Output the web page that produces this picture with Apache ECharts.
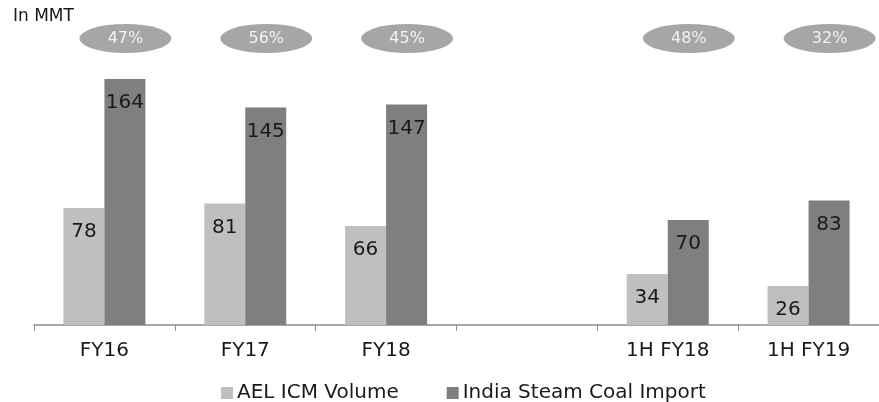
<!DOCTYPE html>
<html>
<head>
<meta charset="utf-8">
<script src="https://cdn.jsdelivr.net/npm/echarts@6/dist/echarts.min.js"></script>
<style>html,body{margin:0;padding:0;background:#fff}#c{width:879px;height:402px}</style>
</head>
<body>
<div id="c"></div>
<script>
const categories = ['FY16', 'FY17', 'FY18', '', '1H FY18', '1H FY19'];
const aelVolume = [78, 81, 66, null, 34, 26];
const coalImport = [164, 145, 147, null, 70, 83];
const sharePct = [47, 56, 45, null, 48, 32];
const seriesNames = ['AEL ICM Volume', 'India Steam Coal Import'];

const FONT = 'DejaVu Sans';
const pctLevel = 191;
const pctData = [];
sharePct.forEach((p, i) => { if (p != null) pctData.push([i, pctLevel, p]); });

const chart = echarts.init(document.getElementById('c'));
chart.setOption({
  animation: false,
  textStyle: { fontFamily: FONT },
  title: {
    text: 'In MMT', left: 8, top: 3,
    textStyle: { fontSize: 17, fontWeight: 'normal', color: '#1a1a1a', fontFamily: FONT }
  },
  legend: {
    data: seriesNames, left: 216, top: 378, icon: 'rect', itemWidth: 12, itemHeight: 12,
    itemGap: 48, textStyle: { fontSize: 20, color: '#1a1a1a', fontFamily: FONT, padding: [0, 0, 0, -1] }
  },
  grid: { left: 34, right: -7, top: 25, bottom: 77 },
  xAxis: {
    type: 'category', data: categories,
    axisLine: { lineStyle: { color: '#8c8c8c', width: 1.5 } },
    axisTick: { show: true, length: 6, interval: 0, lineStyle: { color: '#8c8c8c' } },
    axisLabel: { fontSize: 20, color: '#1a1a1a', margin: 16, interval: 0, fontFamily: FONT }
  },
  yAxis: { type: 'value', min: 0, max: 200, show: false, splitLine: { show: false } },
  series: [
    {
      name: seriesNames[0], type: 'bar', data: aelVolume, barWidth: 41, barGap: '0%',
      itemStyle: { color: '#bfbfbf' },
      label: { show: true, position: 'insideTop', distance: 14, fontSize: 20, color: '#1a1a1a', fontFamily: FONT }
    },
    {
      name: seriesNames[1], type: 'bar', data: coalImport, barWidth: 41,
      itemStyle: { color: '#7f7f7f' },
      label: { show: true, position: 'insideTop', distance: 14, fontSize: 20, color: '#1a1a1a', fontFamily: FONT }
    },
    {
      name: 'share', type: 'scatter', data: pctData, symbol: 'circle', symbolSize: [92, 29],
      symbolOffset: [21, 0], itemStyle: { color: '#a6a6a6', opacity: 1 }, silent: true,
      label: {
        show: true, position: 'inside', fontSize: 16, color: '#f2f2f2', fontFamily: FONT,
        formatter: p => p.data[2] + '%'
      }
    }
  ]
});
</script>
</body>
</html>
